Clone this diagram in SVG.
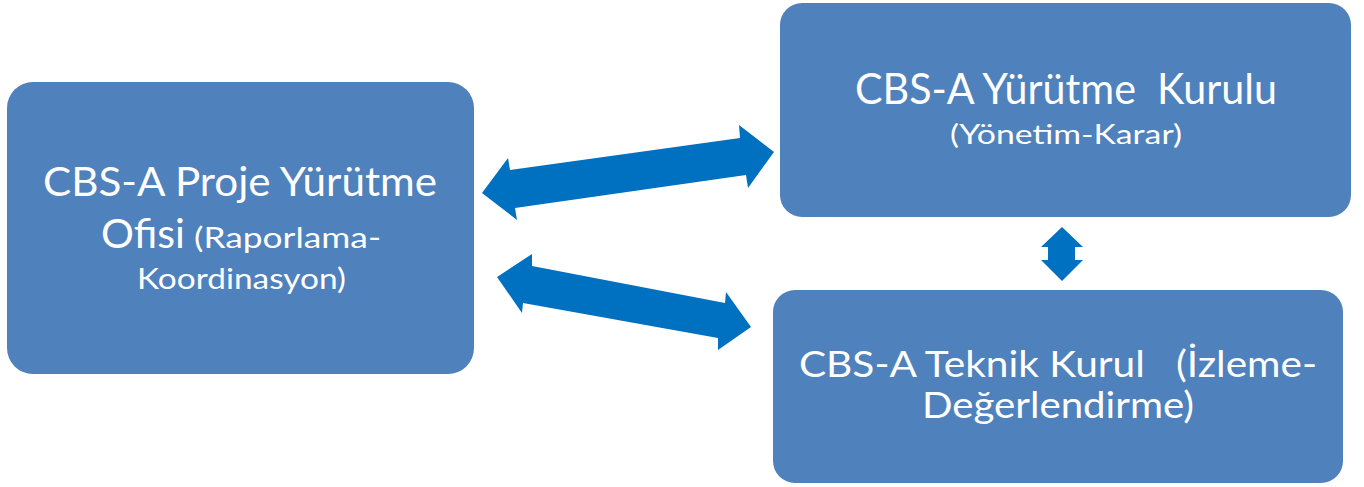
<svg xmlns="http://www.w3.org/2000/svg" width="1364" height="487" viewBox="0 0 1364 487">
  <style>
    .box { fill: #4F81BD; }
    .lbl { fill: #FFFFFF; font-family: Lato, "Open Sans", "Liberation Sans", sans-serif; white-space: pre; }
    .arrow { fill: #0070C0; }
  </style>
  <rect width="1364" height="487" fill="#FFFFFF"/>

  <!-- connectors: block double arrows -->
  <g id="connectors">
    <polygon class="arrow" points="482,193 508,158 510,170 740,138 739,125 774,152 748,188 746,175 515,208 517,220"/>
    <polygon class="arrow" points="497,277 532,254 532,266 725,303 726,292 751,327 718,350 718,338 523,303 522,313"/>
    <polygon class="arrow" points="1062,227 1083,247 1075,247 1075,260 1083,260 1062,281 1041,260 1048,260 1048,247 1041,247"/>
  </g>

  <g id="node-office">
    <rect class="box" x="7" y="82" width="467" height="292" rx="26" ry="26"/>
    <text class="lbl" x="43" y="196" font-size="41" textLength="394" lengthAdjust="spacingAndGlyphs">CBS-A Proje Yürütme</text>
    <text class="lbl" x="101" y="248" font-size="41" textLength="84" lengthAdjust="spacingAndGlyphs">Ofisi</text>
    <text class="lbl" x="194" y="248" font-size="28" textLength="187" lengthAdjust="spacingAndGlyphs">(Raporlama-</text>
    <text class="lbl" x="137" y="289" font-size="28" textLength="209" lengthAdjust="spacingAndGlyphs">Koordinasyon)</text>
  </g>

  <g id="node-executive">
    <rect class="box" x="780" y="3" width="571" height="214" rx="22" ry="22"/>
    <text class="lbl" xml:space="preserve" x="855" y="104" font-size="42" textLength="422" lengthAdjust="spacingAndGlyphs">CBS-A Yürütme  Kurulu</text>
    <text class="lbl" x="950" y="144" font-size="27" textLength="232" lengthAdjust="spacingAndGlyphs">(Yönetim-Karar)</text>
  </g>

  <g id="node-technical">
    <rect class="box" x="773" y="290" width="570" height="193" rx="22" ry="22"/>
    <text class="lbl" xml:space="preserve" x="799" y="377" font-size="37" textLength="518" lengthAdjust="spacingAndGlyphs">CBS-A Teknik Kurul   (İzleme-</text>
    <text class="lbl" x="922" y="418" font-size="37" textLength="272" lengthAdjust="spacingAndGlyphs">Değerlendirme)</text>
  </g>
</svg>
